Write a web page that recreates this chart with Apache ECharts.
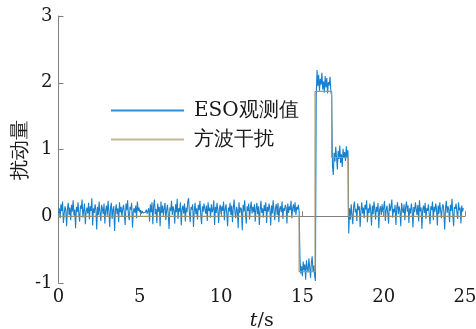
<!DOCTYPE html>
<html>
<head>
<meta charset="utf-8">
<script src="https://cdn.jsdelivr.net/npm/echarts@6/dist/echarts.min.js"></script>
<style>html,body{margin:0;padding:0;background:#fff}#c{width:476px;height:329px}</style>
</head>
<body>
<div id="c"></div>
<script>
// sampling step of the observer output (s)
var sampleStep = 0.05;
var esoBefore = [
  0.05,0.12,-0.03,0.18,0.08,0.22,-0.10,0.04,0.15,0.09,-0.15,0.11,0.20,0.02,0.13,-0.06,0.17,0.07,0.24,0.01,
  0.10,-0.18,0.14,0.06,0.21,0.03,-0.08,0.16,0.11,0.25,-0.02,0.09,0.19,-0.12,0.07,0.13,0.04,0.20,-0.05,0.15,
  0.08,0.27,-0.14,0.12,0.05,0.18,0.10,-0.20,0.14,0.02,0.22,0.06,-0.07,0.17,0.11,0.03,0.19,-0.11,0.09,0.16,
  0.01,0.23,0.07,-0.16,0.13,0.20,-0.04,0.10,0.15,-0.22,0.08,0.18,0.03,0.12,-0.09,0.21,0.06,0.14,-0.01,0.11,
  0.17,0.04,-0.13,0.19,0.09,0.24,0.02,-0.06,0.14,0.10,0.20,-0.17,0.07,0.12,0.05,0.16,-0.03,0.22,0.08,0.13,
  0.06,0.09,0.04,0.08,0.05,0.07,0.03,0.06,0.10,0.04,0.08,0.12,-0.08,0.18,0.06,0.21,-0.12,0.15,0.25,0.03,
  0.11,-0.10,0.19,0.07,0.14,-0.15,0.22,0.05,0.16,0.01,0.12,0.20,-0.06,0.09,0.17,0.03,-0.19,0.13,0.08,0.23,
  0.02,0.15,0.09,-0.11,0.18,0.06,0.26,-0.04,0.12,0.07,0.21,-0.14,0.10,0.16,0.04,0.19,-0.08,0.13,0.06,0.22,
  0.27,0.05,-0.09,0.14,0.10,0.18,-0.16,0.08,0.20,0.03,0.12,-0.05,0.17,0.09,0.23,0.01,-0.12,0.15,0.07,0.19,
  0.11,0.04,0.16,-0.07,0.21,0.08,0.13,-0.02,0.18,0.06,0.10,0.24,-0.13,0.14,0.05,0.20,0.09,-0.10,0.12,0.17,
  0.03,0.15,0.08,0.22,-0.06,0.11,0.18,0.04,-0.15,0.13,0.07,0.20,0.02,0.16,-0.09,0.12,0.25,0.06,-0.03,0.14,
  0.09,-0.18,0.21,0.05,0.13,0.10,-0.21,0.17,0.07,0.24,0.02,-0.11,0.15,0.08,0.19,-0.05,0.12,0.22,0.04,0.14,
  0.06,0.18,-0.08,0.11,0.20,0.03,0.15,-0.13,0.09,0.23,0.05,0.12,-0.02,0.17,0.08,0.21,-0.10,0.14,0.07,0.19,
  0.10,-0.14,0.16,0.04,0.24,0.09,-0.06,0.13,0.18,0.02,0.20,-0.09,0.11,0.15,0.06,0.22,-0.04,0.12,0.08,0.17,
  0.13,-0.11,0.19,0.05,0.15,0.09,0.23,-0.03,0.12,0.18,0.06,0.21,0.02,0.14,0.10,0.17,0.07
];
var esoLow = [-0.62,-0.86,-0.75,-0.90,-0.68,-0.81,-0.72,-0.95,-0.66,-0.78,-0.84,-0.63,-0.77,-0.92,-0.70,-0.60,-0.82,-0.74,-0.88,-0.97];
var esoHigh = [1.80,2.19,1.95,2.12,1.88,2.06,1.97,2.15,1.90,2.02,1.85,2.10,1.93,2.07,1.84,2.01,1.96,2.09,1.87,1.80];
var esoMid = [0.75,0.62,0.95,0.82,1.04,0.88,0.70,0.98,0.86,1.06,0.80,0.93,0.74,1.01,0.89,0.96,0.83,1.05,0.87,0.99];
var esoAfter = [
  -0.26,0.12,-0.05,
  0.18,0.02,-0.12,0.14,0.22,0.06,0.11,-0.07,0.19,0.09,0.15,-0.16,0.08,0.21,0.04,0.13,-0.03,0.17,0.10,0.24,
  -0.09,0.12,0.05,0.19,0.08,-0.14,0.16,0.03,0.22,0.11,-0.05,0.14,0.07,0.20,-0.18,0.10,0.15,0.02,0.18,0.06,
  0.13,0.23,-0.07,0.09,0.16,0.04,-0.11,0.19,0.08,0.14,0.25,-0.02,0.11,0.06,0.17,-0.13,0.12,0.21,0.03,0.15,
  0.08,-0.15,0.20,0.10,0.05,0.18,-0.06,0.13,0.22,0.07,0.16,-0.10,0.12,0.04,0.19,0.09,-0.17,0.14,0.06,0.21,
  0.11,0.02,0.17,-0.08,0.24,0.07,0.13,-0.19,0.10,0.16,0.05,0.20,-0.04,0.12,0.08,0.18,0.03,-0.12,0.15,0.09,
  0.22,-0.06,0.14,0.07,0.19,0.11,-0.14,0.16,0.04,0.21,0.09,-0.03,0.13,0.18,0.06,-0.20,0.12,0.23,0.05,0.15,
  0.10,-0.09,0.17,0.08,0.26,0.03,-0.15,0.14,0.11,0.19,0.06,-0.04,0.21,0.09,0.13,-0.11,0.16,0.07,0.12
];
// square-wave disturbance: switching times and levels
var squareTimes = [0, 14.8, 15.78, 16.8, 17.82, 24.9];
var squareLevels = [0, -0.83, 1.87, 0.88, 0, 0];
var xTicks = [0, 5, 10, 15, 20, 25];
var yTicks = [-1, 0, 1, 2, 3];
var seriesNames = ['ESO观测值', '方波干扰'];

var esoValues = esoBefore.concat(esoLow, esoHigh, esoMid, esoAfter);
var esoData = esoValues.map(function (v, i) { return [+(i * sampleStep).toFixed(2), v]; });
var squareData = squareTimes.map(function (t, i) { return [t, squareLevels[i]]; });

var serif = "'DejaVu Serif', serif";
var chart = echarts.init(document.getElementById('c'));
chart.setOption({
  animation: false,
  backgroundColor: '#fff',
  textStyle: { fontFamily: serif },
  grid: { left: 58.5, right: 11, top: 16, bottom: 46, outerBoundsMode: 'none', containLabel: false },
  legend: {
    data: [{ name: seriesNames[0], icon: 'rect' }, { name: seriesNames[1], icon: 'rect' }],
    orient: 'vertical',
    left: 111, top: 99,
    padding: 0,
    itemWidth: 73, itemHeight: 2, itemGap: 6,
    textStyle: { fontFamily: serif, fontSize: 20, color: '#1a1a1a', lineHeight: 23, padding: [0, 0, 0, 5] }
  },
  xAxis: {
    type: 'value', min: xTicks[0], max: xTicks[xTicks.length - 1], interval: 5,
    name: '{i|t}/s', nameLocation: 'middle', nameGap: 29, nameMoveOverlap: false,
    nameTextStyle: { fontFamily: serif, fontSize: 19, color: '#1a1a1a',
      rich: { i: { fontStyle: 'italic', fontFamily: serif, fontSize: 19, color: '#1a1a1a' } } },
    axisLine: { lineStyle: { color: '#808080', width: 1 } },
    axisTick: { inside: true, length: 5, lineStyle: { color: '#808080' } },
    axisLabel: { fontFamily: serif, fontSize: 18, color: '#1a1a1a', margin: 5 },
    splitLine: { show: false }
  },
  yAxis: {
    type: 'value', min: yTicks[0], max: yTicks[yTicks.length - 1], interval: 1,
    name: '扰动量', nameLocation: 'middle', nameGap: 28, nameRotate: 90, nameMoveOverlap: false,
    nameTextStyle: { fontFamily: serif, fontSize: 20, color: '#1a1a1a' },
    axisLine: { show: true, lineStyle: { color: '#808080', width: 1 } },
    axisTick: { show: true, inside: true, length: 5, lineStyle: { color: '#808080' } },
    axisLabel: { fontFamily: serif, fontSize: 18, color: '#1a1a1a', margin: 6 },
    splitLine: { show: false }
  },
  series: [
    {
      name: seriesNames[0], type: 'line', data: esoData,
      symbol: 'none', showSymbol: false,
      lineStyle: { color: '#1a80cc', width: 1.1 }, itemStyle: { color: '#2a8fd6' }
    },
    {
      name: seriesNames[1], type: 'line', data: squareData, step: 'end',
      symbol: 'none', showSymbol: false,
      lineStyle: { color: '#a6966a', width: 1.2 }, itemStyle: { color: '#c4b594' }
    }
  ]
});
</script>
</body>
</html>
